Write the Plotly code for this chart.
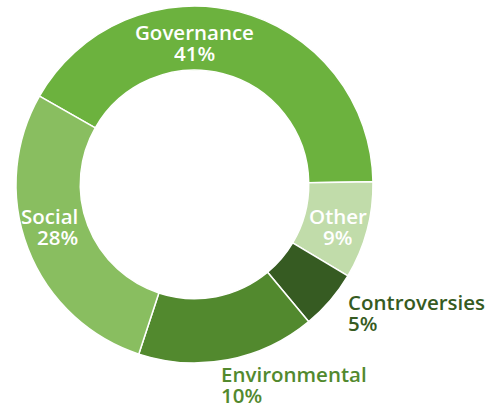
import plotly.graph_objects as go

# ---- data ----
categories = ["Governance", "Other", "Controversies", "Environmental", "Social"]
values = [41.5, 8.8, 5.4, 16.1, 28.2]          # slice shares
pct_labels = ["41%", "9%", "5%", "10%", "28%"]   # percentages as printed

# ---- style ----
colors = ["#6cb23e", "#c1dcaa", "#365b22", "#52892e", "#89be60"]
label_colors = ["white", "white", "#365b22", "#52892e", "white"]
W, H = 490, 407
FONT = "Open Sans"
FS = 20.5

fig = go.Figure(go.Pie(
    labels=categories,
    values=values,
    hole=0.64,
    sort=False,
    direction="clockwise",
    rotation=-60.3,
    marker=dict(colors=colors, line=dict(color="white", width=1.5)),
    textinfo="none",
    hoverinfo="label+percent",
    showlegend=False,
    domain=dict(x=[16 / W, 373 / W], y=[1 - 363 / H, 1 - 6 / H]),
))

# label placement (pixel anchor, alignment)
label_pos = {
    "Governance": (194, 32, "center"),
    "Other": (337.5, 215.5, "center"),
    "Controversies": (346, 301.5, "left"),
    "Environmental": (219, 373.5, "left"),
    "Social": (80, 215.5, "right"),
}
LINE_GAP = 20.5

for cat, pct, col in zip(categories, pct_labels, label_colors):
    px, py, al = label_pos[cat]
    for i, txt in enumerate([cat, pct]):
        fig.add_annotation(
            x=px / W, y=1 - (py + i * LINE_GAP) / H,
            xref="paper", yref="paper",
            text=txt, showarrow=False,
            xanchor=al, yanchor="middle",
            height=19, valign="middle", align=al,
            font=dict(family=FONT, size=FS, color=col, weight=600),
        )

fig.update_layout(
    width=W, height=H,
    margin=dict(l=0, r=0, t=0, b=0),
    paper_bgcolor="white",
    plot_bgcolor="white",
)

fig.write_html("out.html")
